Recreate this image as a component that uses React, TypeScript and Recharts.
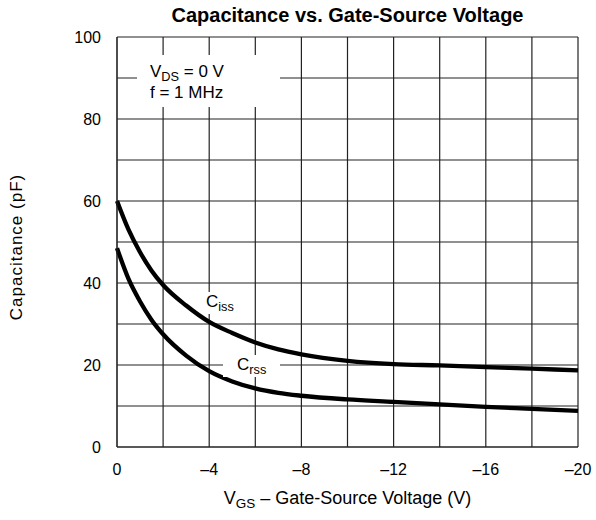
import { LineChart, Line, XAxis, YAxis, CartesianGrid } from "recharts";

// (VDS = 0 V, f = 1 MHz)
const vgs = [0, -0.5, -1, -1.5, -2, -3, -4, -5, -6, -7, -8, -10, -12, -14, -16, -18, -20];
const ciss = [60, 53, 47.5, 43, 39.5, 34.5, 30.5, 27.8, 25.5, 23.8, 22.6, 21, 20.2, 19.9, 19.5, 19.1, 18.7];
const crss = [48.5, 41, 35.5, 31, 27.5, 22.3, 18.5, 16, 14.3, 13.2, 12.5, 11.6, 11, 10.4, 9.8, 9.3, 8.8];

const xTicks = [0, -2, -4, -6, -8, -10, -12, -14, -16, -18, -20];
const yTicks = [0, 10, 20, 30, 40, 50, 60, 70, 80, 90, 100];

const data = vgs.map((v, i) => ({ vgs: v, ciss: ciss[i], crss: crss[i] }));

const FONT = '"Liberation Sans", Arial, sans-serif';
const GRID = "#222";

const fmtX = (v: number) => (v % 4 !== 0 ? "" : v === 0 ? "0" : "\u2013" + Math.abs(v));
const fmtY = (v: number) => (v % 20 === 0 ? String(v) : "");

const sub = { fontSize: "0.75em", verticalAlign: "-0.3em", lineHeight: 0 } as const;

export default function App() {
  return (
    <div style={{ position: "absolute", left: 0, top: 0, width: 596, height: 520, background: "#fff", fontFamily: FONT }}>
      <LineChart width={596} height={520} data={data} margin={{ top: 37, right: 18, bottom: 43, left: 57 }}>
        <CartesianGrid stroke={GRID} strokeWidth={1.2} />
        <XAxis
          dataKey="vgs"
          type="number"
          domain={[-20, 0]}
          reversed
          ticks={xTicks}
          interval={0}
          tickFormatter={fmtX}
          tickLine={false}
          tickSize={0}
          tickMargin={17}
          axisLine={{ stroke: GRID }}
          tick={{ fill: "#000", fontSize: 16, fontFamily: FONT }}
        />
        <YAxis
          type="number"
          domain={[0, 100]}
          ticks={yTicks}
          interval={0}
          tickFormatter={fmtY}
          tickLine={false}
          tickSize={0}
          tickMargin={16}
          width={60}
          axisLine={{ stroke: GRID }}
          tick={{ fill: "#000", fontSize: 16, fontFamily: FONT }}
        />
        <Line type="monotone" dataKey="ciss" stroke="#000" strokeWidth={4.3} dot={false} isAnimationActive={false} />
        <Line type="monotone" dataKey="crss" stroke="#000" strokeWidth={4.3} dot={false} isAnimationActive={false} />
      </LineChart>

      {/* title */}
      <div style={{ position: "absolute", left: 117, width: 461, top: 4, textAlign: "center", fontWeight: "bold", fontSize: 20, whiteSpace: "nowrap" }}>
        Capacitance vs. Gate-Source Voltage
      </div>

      {/* y axis label */}
      <div
        style={{
          position: "absolute",
          left: 17,
          top: 247,
          transform: "translate(-50%, -50%) rotate(-90deg)",
          whiteSpace: "nowrap",
          fontSize: 17,
          letterSpacing: 1,
        }}
      >
        Capacitance (pF)
      </div>

      {/* x axis label */}
      <div style={{ position: "absolute", left: 117, width: 461, top: 488, textAlign: "center", fontSize: 18, whiteSpace: "nowrap" }}>
        V<span style={sub}>GS</span> {"\u2013"} Gate-Source Voltage (V)
      </div>

      {/* test conditions */}
      <div
        style={{
          position: "absolute",
          left: 137,
          top: 55,
          width: 143,
          height: 52,
          background: "#fff",
          fontSize: 17,
          lineHeight: "21px",
          paddingLeft: 13,
          paddingTop: 6,
          boxSizing: "border-box",
        }}
      >
        V<span style={sub}>DS</span> = 0 V
        <br />f = 1 MHz
      </div>

      {/* curve labels */}
      <div style={{ position: "absolute", left: 204, top: 292, width: 37, height: 22, background: "#fff", fontSize: 17, paddingLeft: 2, boxSizing: "border-box", lineHeight: "20px" }}>
        C<span style={sub}>iss</span>
      </div>
      <div style={{ position: "absolute", left: 223, top: 355, width: 57, height: 22, background: "#fff", fontSize: 17, paddingLeft: 14, boxSizing: "border-box", lineHeight: "20px" }}>
        C<span style={sub}>rss</span>
      </div>
    </div>
  );
}
